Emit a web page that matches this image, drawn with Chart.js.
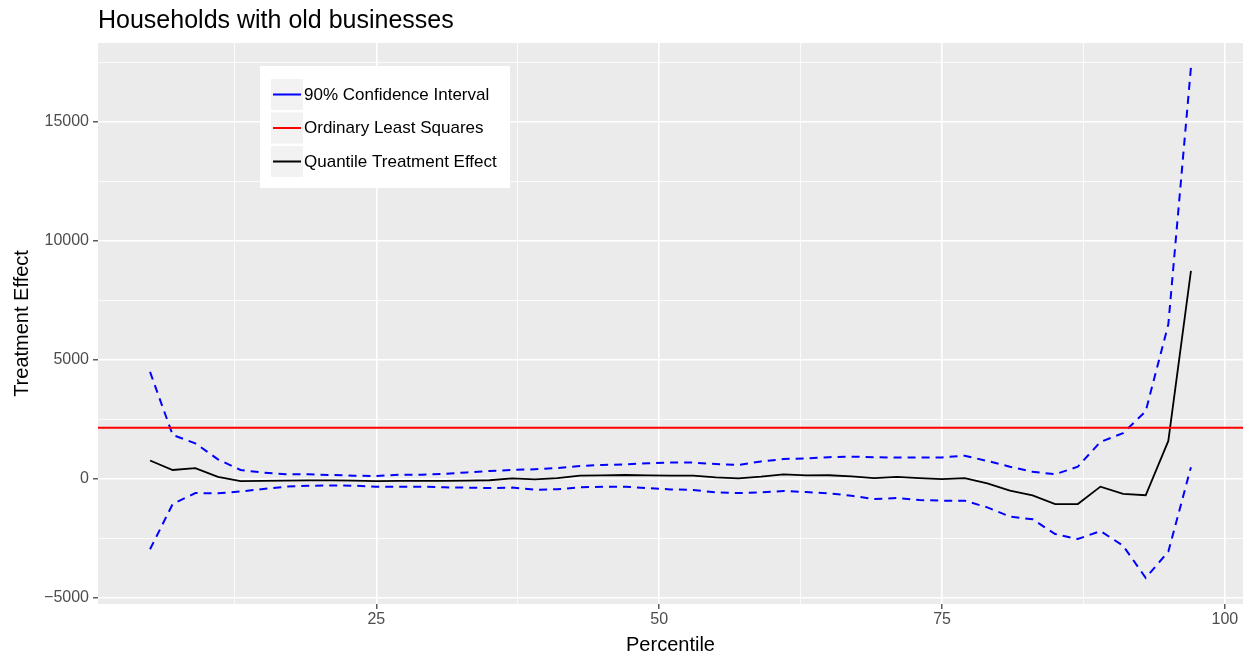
<!DOCTYPE html>
<html>
<head>
<meta charset="utf-8">
<script src="https://cdn.jsdelivr.net/npm/chart.js@4.4.0/dist/chart.umd.min.js"></script>
<style>
  html, body { margin: 0; padding: 0; background: #fff; }
  canvas { display: block; }
</style>
</head>
<body>
<canvas id="chart" width="1251" height="660"></canvas>
<script>
// values
const percentiles = [5, 7, 9, 11, 13, 15, 17, 19, 21, 23, 25, 27, 29, 31, 33, 35, 37, 39, 41, 43, 45, 47, 49,
  51, 53, 55, 57, 59, 61, 63, 65, 67, 69, 71, 73, 75, 77, 79, 81, 83, 85, 87, 89, 91, 93, 95, 97];
const qte = [780, 380, 460, 90, -90, -80, -70, -60, -60, -70, -90, -80, -80, -80, -70, -50, 30, -10, 40, 140, 150, 170, 150,
  140, 140, 70, 30, 100, 200, 150, 160, 110, 40, 90, 40, 0, 40, -180, -490, -690, -1050, -1050, -320, -620, -680, 1600, 8750];
const ciUpper = [4500, 1850, 1500, 830, 380, 270, 200, 200, 170, 140, 130, 180, 180, 220, 280, 340, 380, 410, 460, 550, 590, 620, 660,
  690, 690, 630, 590, 740, 840, 870, 920, 940, 920, 900, 900, 910, 980, 760, 520, 310, 200, 520, 1560, 1930, 2850, 6500, 17300];
const ciLower = [-2950, -1050, -590, -600, -520, -420, -320, -280, -270, -280, -320, -320, -320, -350, -360, -380, -360, -450, -430, -350, -320, -320, -380,
  -435, -460, -560, -590, -560, -505, -545, -600, -700, -840, -800, -880, -910, -910, -1190, -1580, -1690, -2310, -2520, -2185, -2800, -4150, -3050, 500];
const olsEstimate = 2150;

const xMajorTicks = [25, 50, 75, 100];
const xMinorTicks = [12.5, 37.5, 62.5, 87.5];
const yMajorTicks = [-5000, 0, 5000, 10000, 15000];
const yMinorTicks = [-2500, 2500, 7500, 12500, 17500];
const xLimits = [0.4, 101.6];
const yLimits = [-5250, 18320];

const FONT = '"Liberation Sans", Arial, Helvetica, sans-serif';

const toPoints = (ys) => percentiles.map((p, i) => ({ x: p, y: ys[i] }));

const tickSetter = (majors, minors) => (scale) => {
  scale.ticks = [...minors, ...majors].sort((a, b) => a - b).map((v) => ({ value: v }));
};
const isMajor = (majors, ctx) => ctx.tick && majors.includes(ctx.tick.value);

// grey panel behind the grid, like ggplot
const panelBg = {
  id: 'panelBg',
  beforeDraw(chart) {
    const { ctx, chartArea: a } = chart;
    ctx.save();
    ctx.fillStyle = '#fff';
    ctx.fillRect(0, 0, chart.width, chart.height);
    ctx.fillStyle = '#EBEBEB';
    ctx.fillRect(a.left, a.top, a.right - a.left, a.bottom - a.top);
    ctx.restore();
  }
};

// title and the legend that sits inside the panel
const overlay = {
  id: 'overlay',
  afterDraw(chart) {
    const ctx = chart.ctx;
    ctx.save();
    ctx.fillStyle = '#000';
    ctx.font = '25px ' + FONT;
    ctx.textBaseline = 'alphabetic';
    ctx.fillText('Households with old businesses', chart.chartArea.left, 28);

    const items = chart.data.datasets
      .filter((d) => d.legendRank)
      .sort((a, b) => a.legendRank - b.legendRank);
    ctx.fillStyle = '#fff';
    ctx.fillRect(260, 66, 250, 122);
    ctx.font = '17px ' + FONT;
    ctx.textBaseline = 'middle';
    items.forEach((d, i) => {
      const y = 79 + i * 33.5;
      ctx.fillStyle = '#F2F2F2';
      ctx.fillRect(271, y, 32, 31);
      ctx.strokeStyle = d.borderColor;
      ctx.lineWidth = 2;
      ctx.setLineDash([]);
      ctx.beginPath();
      ctx.moveTo(273, y + 15.5);
      ctx.lineTo(301, y + 15.5);
      ctx.stroke();
      ctx.fillStyle = '#000';
      ctx.fillText(d.label, 304, y + 16);
    });
    ctx.restore();
  }
};

new Chart(document.getElementById('chart').getContext('2d'), {
  type: 'scatter',
  data: {
    datasets: [
      {
        label: 'Quantile Treatment Effect',
        data: toPoints(qte),
        borderColor: '#000000',
        borderWidth: 1.8,
        showLine: true,
        pointRadius: 0,
        order: 3,
        legendRank: 3,
      },
      {
        label: '90% Confidence Interval',
        data: toPoints(ciUpper),
        borderColor: '#0000FF',
        borderWidth: 2,
        borderDash: [8, 6],
        showLine: true,
        pointRadius: 0,
        order: 2,
        legendRank: 1,
      },
      {
        label: '90% Confidence Interval (lower)',
        data: toPoints(ciLower),
        borderColor: '#0000FF',
        borderWidth: 2,
        borderDash: [8, 6],
        showLine: true,
        pointRadius: 0,
        order: 2,
      },
      {
        label: 'Ordinary Least Squares',
        data: [{ x: xLimits[0], y: olsEstimate }, { x: xLimits[1], y: olsEstimate }],
        borderColor: '#FF0000',
        borderWidth: 2,
        showLine: true,
        pointRadius: 0,
        order: 1,
        legendRank: 2,
      },
    ],
  },
  options: {
    responsive: false,
    animation: false,
    events: [],
    layout: { padding: { top: 43, right: 8, left: 0, bottom: 0 } },
    plugins: {
      legend: { display: false },
      title: { display: false },
      tooltip: { enabled: false },
    },
    scales: {
      x: {
        type: 'linear',
        min: xLimits[0],
        max: xLimits[1],
        afterBuildTicks: tickSetter(xMajorTicks, xMinorTicks),
        afterFit: (s) => { s.height = 56; },
        border: { display: false },
        grid: {
          color: '#FFFFFF',
          lineWidth: (c) => (isMajor(xMajorTicks, c) ? 1.6 : 0.8),
          tickColor: (c) => (isMajor(xMajorTicks, c) ? '#333333' : 'rgba(0,0,0,0)'),
          tickWidth: 1.2,
          tickLength: 5,
        },
        ticks: {
          autoSkip: false,
          maxRotation: 0,
          padding: 1,
          color: '#4D4D4D',
          font: { family: FONT, size: 16 },
          callback: (v) => (xMajorTicks.includes(v) ? String(v) : ''),
        },
        title: {
          display: true,
          text: 'Percentile',
          color: '#000',
          font: { family: FONT, size: 20 },
          padding: { top: 0, bottom: 3 },
        },
      },
      y: {
        type: 'linear',
        min: yLimits[0],
        max: yLimits[1],
        afterBuildTicks: tickSetter(yMajorTicks, yMinorTicks),
        afterFit: (s) => { s.width = 98; },
        border: { display: false },
        grid: {
          color: '#FFFFFF',
          lineWidth: (c) => (isMajor(yMajorTicks, c) ? 1.6 : 0.8),
          tickColor: (c) => (isMajor(yMajorTicks, c) ? '#333333' : 'rgba(0,0,0,0)'),
          tickWidth: 1.2,
          tickLength: 5,
        },
        ticks: {
          autoSkip: false,
          padding: 4,
          color: '#4D4D4D',
          font: { family: FONT, size: 16 },
          callback: (v) => (yMajorTicks.includes(v) ? String(v).replace('-', '\u2212') : ''),
        },
        title: {
          display: true,
          text: 'Treatment Effect',
          color: '#000',
          font: { family: FONT, size: 20 },
          padding: { top: 10, bottom: 0 },
        },
      },
    },
  },
  plugins: [panelBg, overlay],
});
</script>
</body>
</html>
